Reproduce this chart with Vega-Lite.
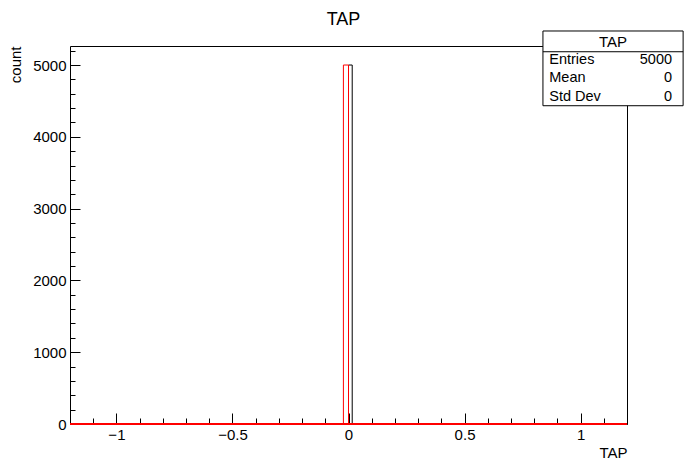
{
  "$schema": "https://vega.github.io/schema/vega-lite/v6.json",
  "width": 557,
  "height": 378,
  "autosize": "none",
  "padding": {"left": 70, "top": 46, "right": 69, "bottom": 48},
  "background": "white",
  "config": {
    "view": {"stroke": "black", "strokeWidth": 1},
    "font": "Liberation Sans",
    "axis": {
      "domain": false,
      "grid": false,
      "labelFont": "Liberation Sans",
      "labelFontSize": 15,
      "labelColor": "black",
      "tickColor": "black",
      "titleFont": "Liberation Sans",
      "titleFontSize": 15,
      "titleFontWeight": "normal",
      "titleColor": "black"
    }
  },
  "title": {
    "text": "TAP",
    "font": "Liberation Sans",
    "fontSize": 18,
    "fontWeight": "normal",
    "color": "black",
    "anchor": "middle",
    "baseline": "alphabetic",
    "offset": 8,
    "dy": 21,
    "dx": -5
  },
  "resolve": {"axis": {"x": "independent", "y": "independent"}},
  "datasets": {
    "hist": [
      {"series": "black", "i": 1, "x": 0, "y": 0},
      {"series": "black", "i": 2, "x": 0, "y": 5000},
      {"series": "black", "i": 3, "x": 0.016, "y": 5000},
      {"series": "black", "i": 4, "x": 0.016, "y": 0},
      {"series": "red", "i": 0, "x": -1.2, "y": 0},
      {"series": "red", "i": 1, "x": -0.022, "y": 0},
      {"series": "red", "i": 2, "x": -0.022, "y": 5000},
      {"series": "red", "i": 3, "x": 0, "y": 5000},
      {"series": "red", "i": 4, "x": 0, "y": 0},
      {"series": "red", "i": 5, "x": 1.2, "y": 0}
    ],
    "box": [
      {"x": 0.8378, "x2": 1.4418, "y": 4433, "y2": 5474}
    ],
    "divider": [
      {"x": 0.8378, "x2": 1.4418, "y": 5185}
    ],
    "boxtitle": [
      {"x": 1.1398, "y": 5325, "label": "TAP"}
    ],
    "stats": [
      {"name": "Entries", "value": "5000", "xn": 0.865, "xv": 1.394, "y": 5070},
      {"name": "Mean", "value": "0", "xn": 0.865, "xv": 1.394, "y": 4815},
      {"name": "Std Dev", "value": "0", "xn": 0.865, "xv": 1.394, "y": 4559}
    ]
  },
  "layer": [
    {
      "data": {"name": "hist"},
      "transform": [{"filter": "datum.series === 'black'"}],
      "mark": {"type": "line", "color": "black", "strokeWidth": 1, "interpolate": "linear"},
      "encoding": {
        "x": {
          "field": "x", "type": "quantitative",
          "scale": {"domain": [-1.2, 1.2], "nice": false, "zero": false},
          "axis": {
            "orient": "bottom",
            "title": null,
            "labels": false,
            "values": [-1.2, -1.1, -0.9, -0.8, -0.7, -0.6, -0.4, -0.3, -0.2, -0.1, 0.1, 0.2, 0.3, 0.4, 0.6, 0.7, 0.8, 0.9, 1.1, 1.2],
            "tickSize": -6
          }
        },
        "y": {
          "field": "y", "type": "quantitative",
          "scale": {"domain": [0, 5265], "nice": false},
          "axis": {
            "orient": "left",
            "title": null,
            "labels": false,
            "values": [200, 400, 600, 800, 1200, 1400, 1600, 1800, 2200, 2400, 2600, 2800, 3200, 3400, 3600, 3800, 4200, 4400, 4600, 4800, 5200],
            "tickSize": -5
          }
        },
        "order": {"field": "i", "type": "quantitative"}
      }
    },
    {
      "data": {"name": "hist"},
      "transform": [{"filter": "datum.series === 'red'"}],
      "mark": {"type": "line", "color": "red", "strokeWidth": 1, "interpolate": "linear"},
      "encoding": {
        "x": {
          "field": "x", "type": "quantitative",
          "axis": {
            "orient": "bottom",
            "title": "TAP",
            "titleAnchor": "end",
            "titleAlign": "right",
            "titleX": 557,
            "titleY": 33,
            "titleBaseline": "alphabetic",
            "values": [-1, -0.5, 0, 0.5, 1],
            "format": "~g",
            "labelFlush": false,
            "labelOverlap": false,
            "labelPadding": 14,
            "tickSize": -11
          }
        },
        "y": {
          "field": "y", "type": "quantitative",
          "axis": {
            "orient": "left",
            "title": "count",
            "titleAnchor": "end",
            "titleAngle": -90,
            "titleAlign": "right",
            "titleBaseline": "middle",
            "titleX": -55,
            "titleY": 0,
            "values": [0, 1000, 2000, 3000, 4000, 5000],
            "format": "d",
            "labelOverlap": false,
            "labelPadding": 14,
            "tickSize": -10
          }
        },
        "order": {"field": "i", "type": "quantitative"}
      }
    },
    {
      "data": {"name": "hist"},
      "transform": [{"filter": "datum.series === 'red' && (datum.i === 0 || datum.i === 5)"}],
      "mark": {"type": "line", "color": "red", "strokeWidth": 2, "interpolate": "linear"},
      "encoding": {
        "x": {"field": "x", "type": "quantitative", "axis": null},
        "y": {"field": "y", "type": "quantitative", "axis": null},
        "order": {"field": "i", "type": "quantitative"}
      }
    },
    {
      "data": {"name": "box"},
      "mark": {"type": "rect", "fill": "white", "stroke": "black", "strokeWidth": 1, "clip": false},
      "encoding": {
        "x": {"field": "x", "type": "quantitative", "axis": null},
        "x2": {"field": "x2"},
        "y": {"field": "y", "type": "quantitative", "axis": null},
        "y2": {"field": "y2"}
      }
    },
    {
      "data": {"name": "divider"},
      "mark": {"type": "rule", "color": "black", "strokeWidth": 1, "clip": false},
      "encoding": {
        "x": {"field": "x", "type": "quantitative", "axis": null},
        "x2": {"field": "x2"},
        "y": {"field": "y", "type": "quantitative", "axis": null}
      }
    },
    {
      "data": {"name": "boxtitle"},
      "mark": {"type": "text", "font": "Liberation Sans", "fontSize": 15, "align": "center", "baseline": "middle", "color": "black", "clip": false},
      "encoding": {
        "x": {"field": "x", "type": "quantitative", "axis": null},
        "y": {"field": "y", "type": "quantitative", "axis": null},
        "text": {"field": "label"}
      }
    },
    {
      "data": {"name": "stats"},
      "mark": {"type": "text", "font": "Liberation Sans", "fontSize": 14.5, "align": "left", "baseline": "middle", "color": "black", "clip": false},
      "encoding": {
        "x": {"field": "xn", "type": "quantitative", "axis": null},
        "y": {"field": "y", "type": "quantitative", "axis": null},
        "text": {"field": "name"}
      }
    },
    {
      "data": {"name": "stats"},
      "mark": {"type": "text", "font": "Liberation Sans", "fontSize": 14.5, "align": "right", "baseline": "middle", "color": "black", "clip": false},
      "encoding": {
        "x": {"field": "xv", "type": "quantitative", "axis": null},
        "y": {"field": "y", "type": "quantitative", "axis": null},
        "text": {"field": "value"}
      }
    }
  ]
}
